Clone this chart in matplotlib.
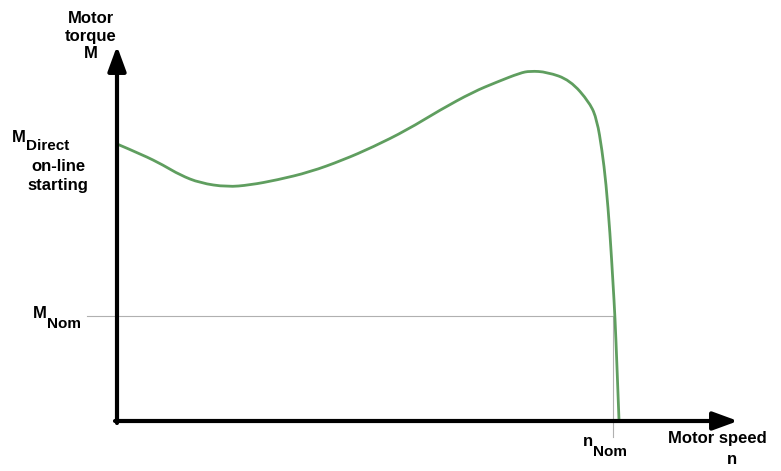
import matplotlib
matplotlib.use('Agg')
import matplotlib.pyplot as plt
from matplotlib.patches import FancyArrowPatch, PathPatch
from matplotlib.path import Path

# torque-speed curve (arbitrary units, origin at axes corner)
speed = [0, 26, 46, 63, 83, 110, 133, 160, 193, 226, 256, 290, 323, 356, 380,
         403, 413, 430, 453, 473, 480, 485, 489, 493, 496, 498, 500, 502]
torque = [277, 266, 256, 246, 238, 234, 236, 241, 249, 261, 274, 291, 311, 329, 339,
          348, 350, 349, 341, 318, 301, 271, 238, 188, 138, 104, 54, 1]
n_nom = 496
m_nom = 105
x_end = 621
y_end = 375

plt.rcParams['font.family'] = ['Liberation Sans', 'DejaVu Sans']

fig = plt.figure(figsize=(7.81, 4.71), dpi=100)
ax = fig.add_axes([0, 0, 1, 1])
ax.set_xlim(-117, 664)
ax.set_ylim(-50, 421)
ax.axis('off')

green = '#5f9e5f'
# smooth the read points with quadratic bezier segments through midpoints
pts = list(zip(speed, torque))
verts = [pts[0]]
codes = [Path.MOVETO]
for i in range(1, len(pts) - 1):
    mid = ((pts[i][0] + pts[i + 1][0]) / 2, (pts[i][1] + pts[i + 1][1]) / 2)
    if i == len(pts) - 2:
        mid = pts[-1]
    verts += [pts[i], mid]
    codes += [Path.CURVE3, Path.CURVE3]
ax.add_patch(PathPatch(Path(verts, codes), fill=False, edgecolor=green, lw=2.0,
                       zorder=3))

# nominal point guide lines
ax.plot([-30, n_nom], [m_nom, m_nom], color='#b0b0b0', lw=0.8, zorder=1)
ax.plot([n_nom, n_nom], [m_nom, -16], color='#b0b0b0', lw=0.8, zorder=1)

# axes with arrows
for (x0, y0, x1, y1) in [(0, -2, 0, y_end), (-2, 0, x_end, 0)]:
    arr = FancyArrowPatch((x0, y0), (x1, y1), arrowstyle='-|>,head_length=1.5,head_width=0.55',
                          mutation_scale=10, lw=3.0, color='black', shrinkA=0, shrinkB=0,
                          zorder=4)
    ax.add_patch(arr)

fs = 12
fsub = 11
bold = dict(fontweight='bold')
ax.text(-26, 385, 'Motor\ntorque\nM', ha='center', va='center', fontsize=fs,
        linespacing=1.2, **bold)
ax.text(-105, 283, 'M', ha='left', va='center', fontsize=fs, **bold)
ax.text(-91, 275, 'Direct', ha='left', va='center', fontsize=fsub, **bold)
ax.text(-59, 245, 'on-line\nstarting', ha='center', va='center', fontsize=fs,
        linespacing=1.32, **bold)
ax.text(-84, 108, 'M', ha='left', va='center', fontsize=fs, **bold)
ax.text(-70, 97.5, 'Nom', ha='left', va='center', fontsize=fsub, **bold)
ax.text(466, -21, 'n', ha='left', va='center', fontsize=fs, **bold)
ax.text(476, -31, 'Nom', ha='left', va='center', fontsize=fsub, **bold)
ax.text(600, -18, 'Motor speed', ha='center', va='center', fontsize=fs, **bold)
ax.text(615, -38, 'n', ha='center', va='center', fontsize=fs, **bold)

fig.savefig('out.png', dpi=100)
